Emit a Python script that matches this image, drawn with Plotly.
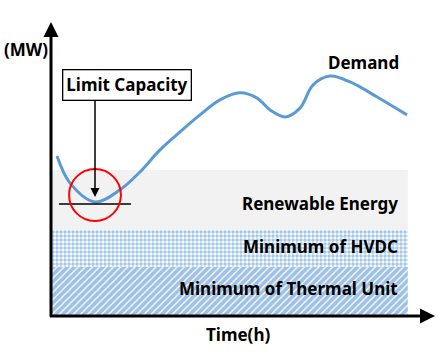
import plotly.graph_objects as go

# ---- data (conceptual chart; x = time in h-units, y = MW-units) ----
demand_time = [0.375, 1.19, 2.75, 4.31, 5.56, 6.81, 8.06, 9.31, 10.56, 11.81, 12.88,
               13.69, 14.63, 15.56, 16.38, 17.44, 18.69, 20.38, 22.25]
demand_mw = [54.4, 45.2, 38.8, 42.9, 49.0, 56.5, 62.6, 68.4, 73.5, 75.9, 74.1,
             70.1, 67.7, 70.7, 78.6, 81.6, 79.6, 74.5, 68.4]

band_names = ["Minimum of Thermal Unit", "Minimum of HVDC", "Renewable Energy"]
band_bottoms = [0.0, 16.7, 29.3]
band_tops = [16.7, 29.3, 49.7]
band_span = [0.05, 22.3]

limit_time = 2.75
limit_level = 38.1

FONT = "Noto Sans"
BLUE = "#5B9BD5"

fig = go.Figure()

# bands
styles = [
    dict(fillcolor="white", fillpattern=dict(shape="/", fgcolor="#3F84CA", bgcolor="white", size=5, solidity=0.75)),
    dict(fillcolor="white", fillpattern=dict(shape=".", fgcolor="#4A8ED0", bgcolor="white", size=4, solidity=0.6)),
    dict(fillcolor="#F2F2F2"),
]
for name, b, t, st in zip(band_names, band_bottoms, band_tops, styles):
    x0, x1 = band_span
    fig.add_trace(go.Scatter(
        x=[x0, x1, x1, x0, x0], y=[b, b, t, t, b], fill="toself", mode="lines",
        line=dict(width=0), hoverinfo="skip", showlegend=False, name=name, **st))

# demand
fig.add_trace(go.Scatter(x=demand_time, y=demand_mw, mode="lines",
                         line=dict(color=BLUE, width=3, shape="spline", smoothing=1.0),
                         showlegend=False, name="Demand"))

# limit line
fig.add_trace(go.Scatter(x=[limit_time - 2.25, limit_time + 2.25], y=[limit_level, limit_level],
                         mode="lines", line=dict(color="black", width=1.5), showlegend=False))

shapes = [dict(type="circle", xref="x", yref="y",
               x0=limit_time - 1.62, x1=limit_time + 1.62,
               y0=limit_level - 5.8, y1=limit_level + 11.9,
               line=dict(color="#FF0000", width=2))]

ann = []
# axes arrows
ann.append(dict(x=0, y=100, ax=0, ay=-0.8, xref="x", yref="y", axref="x", ayref="y",
                text="", showarrow=True, arrowhead=2, arrowsize=1, arrowwidth=3, arrowcolor="black"))
ann.append(dict(x=24, y=0, ax=-0.15, ay=0, xref="x", yref="y", axref="x", ayref="y",
                text="", showarrow=True, arrowhead=2, arrowsize=1, arrowwidth=3, arrowcolor="black"))
# limit arrow
ann.append(dict(x=limit_time, y=40.5, ax=limit_time, ay=73.8, xref="x", yref="y", axref="x", ayref="y",
                text="", showarrow=True, arrowhead=2, arrowsize=1.2, arrowwidth=1.5, arrowcolor="black"))

f = dict(family=FONT, size=17, color="black")
ann.append(dict(x=4.75, y=78.6, xref="x", yref="y", text="<b>Limit Capacity</b>", showarrow=False,
                font=f, bgcolor="white", bordercolor="black", borderwidth=1.3, borderpad=3))
ann.append(dict(x=19.56, y=86.1, xref="x", yref="y", text="<b>Demand</b>", showarrow=False, font=f))
label_y = [9.5, 23.8, 38.4]
for name, ly in zip(band_names, label_y):
    ann.append(dict(x=21.8, y=ly, xref="x", yref="y", xanchor="right", text="<b>" + name + "</b>",
                    showarrow=False, font=f))
# axis titles (paper refs relative to the plot area so they are not dropped)
ann.append(dict(x=-0.065, y=0.905, xref="paper", yref="paper", xanchor="center", yanchor="middle",
                text="<b>(MW)</b>", showarrow=False, font=f))
ann.append(dict(x=0.487, y=-0.0646, xref="paper", yref="paper", xanchor="center", yanchor="middle",
                text="<b>Time(h)</b>", showarrow=False, font=f))

fig.update_layout(
    width=444, height=361, margin=dict(l=51, r=9, t=22, b=45),
    paper_bgcolor="white", plot_bgcolor="white",
    xaxis=dict(range=[0, 24], visible=False, fixedrange=True),
    yaxis=dict(range=[0, 100], visible=False, fixedrange=True),
    shapes=shapes, annotations=ann, showlegend=False,
)
fig.write_html("out.html", config={"displayModeBar": False},
               post_script="document.body.style.margin='0';")
